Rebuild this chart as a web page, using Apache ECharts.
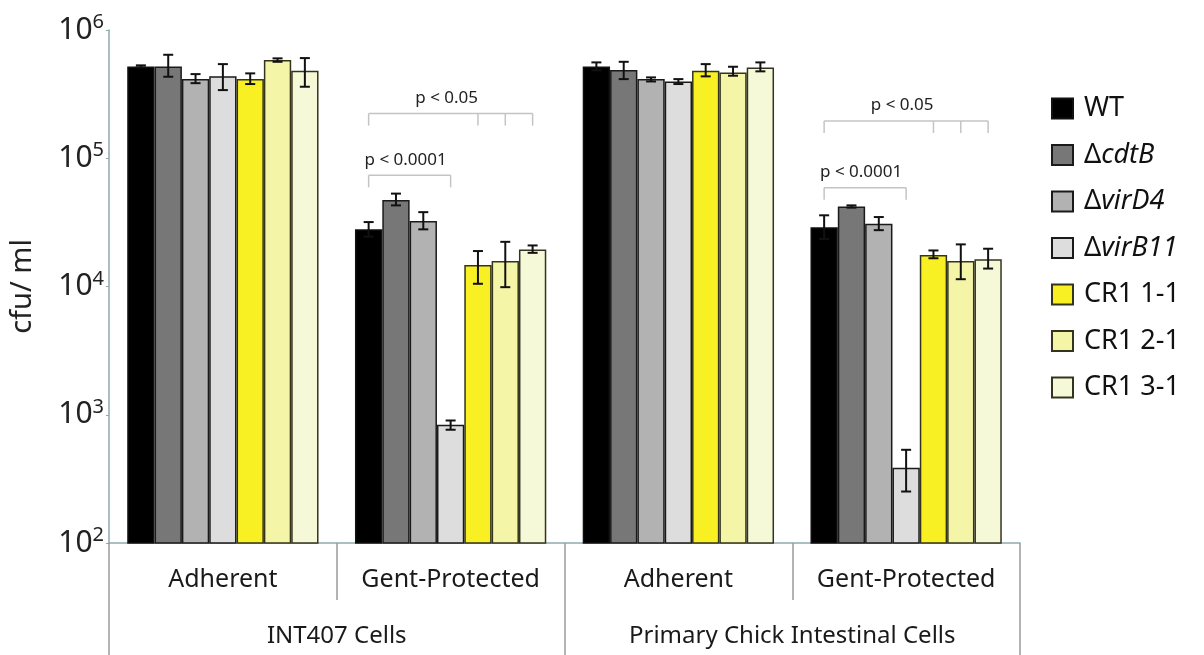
<!DOCTYPE html>
<html>
<head>
<meta charset="utf-8">
<script src="https://cdn.jsdelivr.net/npm/echarts@6/dist/echarts.min.js"></script>
<style>
html,body{margin:0;padding:0;background:#fff;}
#chart{width:1204px;height:655px;}
</style>
</head>
<body>
<div id="chart"></div>
<script>
// ---- data ----
const categories = ['Adherent', 'Gent-Protected', 'Adherent', 'Gent-Protected'];
const cellGroups = ['INT407 Cells', 'Primary Chick Intestinal Cells'];
const strains = ['WT', 'ΔcdtB', 'ΔvirD4', 'ΔvirB11', 'CR1 1-1', 'CR1 2-1', 'CR1 3-1'];

const WT      = [5.2e5, 2.79e4, 5.2e5, 2.9e4];
const cdtB    = [5.2e5, 4.72e4, 4.87e5, 4.2e4];
const virD4   = [4.14e5, 3.24e4, 4.14e5, 3.09e4];
const virB11  = [4.35e5, 836, 3.97e5, 387];
const CR1_11  = [4.14e5, 1.47e4, 4.81e5, 1.76e4];
const CR1_21  = [5.83e5, 1.58e4, 4.67e5, 1.58e4];
const CR1_31  = [4.81e5, 1.94e4, 5.11e5, 1.63e4];

const WT_low     = [5.1e5, 2.45e4, 4.85e5, 2.35e4];
const WT_high    = [5.3e5, 3.18e4, 5.59e5, 3.59e4];
const cdtB_low   = [4.32e5, 4.29e4, 4.14e5, 4.12e4];
const cdtB_high  = [6.41e5, 5.30e4, 5.65e5, 4.29e4];
const virD4_low  = [3.85e5, 2.79e4, 3.97e5, 2.75e4];
const virD4_high = [4.53e5, 3.80e4, 4.27e5, 3.48e4];
const virB11_low = [3.40e5, 764, 3.79e5, 252];
const virB11_high= [5.42e5, 902, 4.14e5, 533];
const CR1_11_low = [3.79e5, 1.05e4, 4.35e5, 1.66e4];
const CR1_11_high= [4.59e5, 1.89e4, 5.42e5, 1.91e4];
const CR1_21_low = [5.65e5, 9.88e3, 4.40e5, 1.14e4];
const CR1_21_high= [6.01e5, 2.23e4, 5.17e5, 2.13e4];
const CR1_31_low = [3.61e5, 1.83e4, 4.76e5, 1.38e4];
const CR1_31_high= [6.04e5, 2.09e4, 5.59e5, 1.97e4];

// significance brackets
const bracketCats   = [1, 1, 3, 3];
const bracketLevels = [2.23e5, 7.36e4, 1.95e5, 5.9e4];
const bracketTicks  = [[0, 4, 5, 6], [0, 3], [0, 4, 5, 6], [0, 3]];
const bracketLabels = ['p < 0.05', 'p < 0.0001', 'p < 0.05', 'p < 0.0001'];

const yTicks = [100, 1000, 10000, 100000, 1000000];

// ---- styles ----
const values = [WT, cdtB, virD4, virB11, CR1_11, CR1_21, CR1_31];
const lows = [WT_low, cdtB_low, virD4_low, virB11_low, CR1_11_low, CR1_21_low, CR1_31_low];
const highs = [WT_high, cdtB_high, virD4_high, virB11_high, CR1_11_high, CR1_21_high, CR1_31_high];
const colors = ['#000000', '#777777', '#b2b2b2', '#dddddd', '#f8f022', '#f5f5a8', '#f6f9d8'];
const borders = ['#111', '#1a1a1a', '#1a1a1a', '#1a1a1a', '#34341e', '#34341e', '#34341e'];
const GAP = 0.16;
const NB = strains.length;
const FONT = "'Noto Sans', sans-serif";

function barX(cx, band, i) {
  const total = band * (1 - GAP);
  const bw = total / NB;
  return cx - total / 2 + (i + 0.5) * bw;
}

const series = [];
strains.forEach((name, i) => {
  series.push({
    name: name,
    type: 'bar',
    xAxisIndex: 0,
    data: values[i],
    barGap: '0%',
    barCategoryGap: (GAP * 100) + '%',
    clip: true,
    itemStyle: { color: colors[i], borderColor: borders[i], borderWidth: 1.5 },
    emphasis: { disabled: true }
  });
});
strains.forEach((name, i) => {
  series.push({
    type: 'custom',
    name: 'err-' + name,
    xAxisIndex: 0,
    data: values[i].map((v, c) => [c, lows[i][c], highs[i][c]]),
    encode: { x: 0, y: [1, 2] },
    z: 5,
    renderItem: function (params, api) {
      const c = api.value(0);
      const lo = api.coord([c, api.value(1)]);
      const hi = api.coord([c, api.value(2)]);
      const band = api.size([1, 0])[0];
      const x = barX(lo[0], band, i);
      const hw = 5;
      const st = { stroke: '#111', lineWidth: 2 };
      return {
        type: 'group',
        children: [
          { type: 'line', shape: { x1: x, y1: hi[1], x2: x, y2: lo[1] }, style: st },
          { type: 'line', shape: { x1: x - hw, y1: hi[1], x2: x + hw, y2: hi[1] }, style: st },
          { type: 'line', shape: { x1: x - hw, y1: lo[1], x2: x + hw, y2: lo[1] }, style: st }
        ]
      };
    }
  });
});
series.push({
  type: 'custom',
  name: 'brackets',
  xAxisIndex: 0,
  data: bracketCats.map((c, k) => [c, bracketLevels[k], k]),
  encode: { x: 0, y: 1 },
  z: 6,
  renderItem: function (params, api) {
    const c = api.value(0);
    const k = api.value(2);
    const p = api.coord([c, api.value(1)]);
    const band = api.size([1, 0])[0];
    const ticks = bracketTicks[k];
    const xs = ticks.map(t => barX(p[0], band, t));
    const x0 = Math.min.apply(null, xs), x1 = Math.max.apply(null, xs);
    const st = { stroke: '#c4c4c4', lineWidth: 1.5 };
    const children = [{ type: 'line', shape: { x1: x0, y1: p[1], x2: x1, y2: p[1] }, style: st }];
    xs.forEach(x => children.push({ type: 'line', shape: { x1: x, y1: p[1], x2: x, y2: p[1] + 12 }, style: st }));
    children.push({
      type: 'text',
      style: {
        text: bracketLabels[k], x: (x0 + x1) / 2 - 4, y: p[1] - 7,
        align: 'center', verticalAlign: 'bottom',
        font: '17px ' + FONT, fill: '#222'
      }
    });
    return { type: 'group', children: children };
  }
});

const chart = echarts.init(document.getElementById('chart'), null, { renderer: 'canvas' });
chart.setOption({
  animation: false,
  backgroundColor: '#fff',
  textStyle: { fontFamily: FONT },
  grid: { left: 107, right: 184, top: 30, bottom: 112, containLabel: false },
  legend: {
    data: strains,
    orient: 'vertical',
    left: 1051,
    top: 95,
    padding: 0,
    itemWidth: 21,
    itemHeight: 20,
    itemGap: 19.5,
    icon: 'rect',
    selectedMode: false,
    formatter: function (name) {
      if (name.charAt(0) === 'Δ') return '{n|Δ}{i|' + name.slice(1) + '}';
      return '{n|' + name + '}';
    },
    textStyle: {
      fontFamily: FONT, fontSize: 27, color: '#111', lineHeight: 20, padding: [0, 0, 0, 6],
      rich: {
        n: { fontFamily: FONT, fontSize: 27, lineHeight: 20, color: '#111' },
        i: { fontFamily: FONT, fontSize: 27, lineHeight: 20, color: '#111', fontStyle: 'italic' }
      }
    }
  },
  xAxis: [
    {
      type: 'category',
      data: categories,
      position: 'bottom',
      axisLine: { show: true, lineStyle: { color: '#8fa9b1', width: 1.5 } },
      axisTick: { show: true, length: 57, lineStyle: { color: '#9a9a9a', width: 1.5 } },
      axisLabel: { fontFamily: FONT, fontSize: 25, color: '#1a1a1a', margin: 24, interval: 0 },
      splitLine: { show: false }
    },
    {
      type: 'category',
      data: cellGroups,
      position: 'bottom',
      offset: 0,
      axisLine: { show: false },
      axisTick: { show: true, length: 112, lineStyle: { color: '#9a9a9a', width: 1.5 } },
      axisLabel: { fontFamily: FONT, fontSize: 24, color: '#1a1a1a', margin: 81, interval: 0 },
      splitLine: { show: false }
    }
  ],
  yAxis: {
    type: 'log',
    logBase: 10,
    min: yTicks[0],
    max: yTicks[yTicks.length - 1],
    name: 'cfu/ ml',
    nameLocation: 'middle',
    nameGap: 72,
    nameTextStyle: { fontFamily: FONT, fontSize: 29, color: '#222' },
    axisLine: { show: true, lineStyle: { color: '#8fa9b1', width: 1.5 } },
    axisTick: { show: true, length: 3, lineStyle: { color: '#8fa9b1' } },
    splitLine: { show: false },
    axisLabel: {
      margin: 5,
      formatter: function (v) {
        return '{b|10}{s|' + Math.round(Math.log10(v)) + '}';
      },
      rich: {
        b: { fontFamily: FONT, fontSize: 30, color: '#222' },
        s: { fontFamily: FONT, fontSize: 20, color: '#222', padding: [0, 0, 15, 0] }
      }
    }
  },
  series: series
});
</script>
</body>
</html>
